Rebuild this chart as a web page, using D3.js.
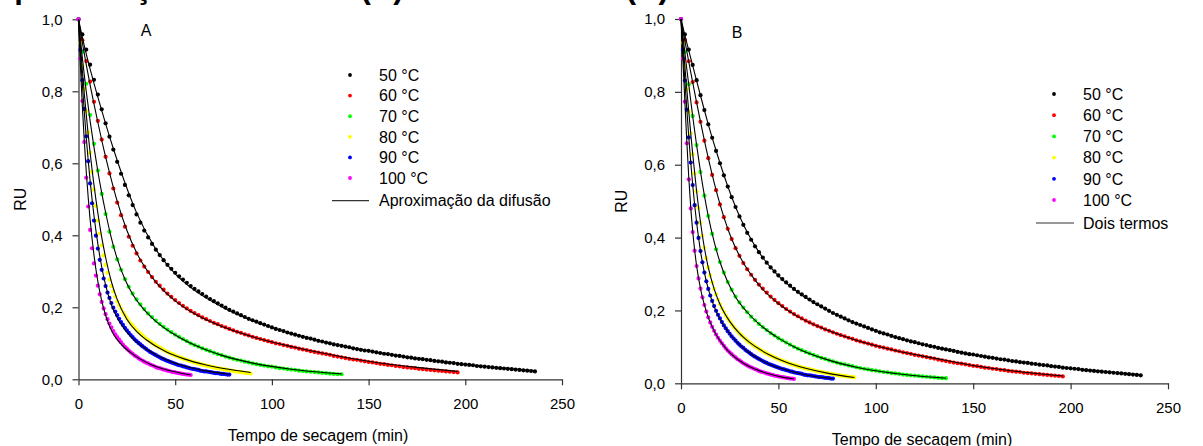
<!DOCTYPE html>
<html><head><meta charset="utf-8">
<script src="https://cdn.jsdelivr.net/npm/d3@7"></script>
<style>
body{margin:0;background:#fff}
svg{display:block}
text{font-family:Arial,"Liberation Sans",sans-serif;fill:#000}
</style>
</head><body>
<svg id="c" width="1203" height="446"></svg>
<script>
// ---------- DATA ----------
const seriesLabels = ["50 °C","60 °C","70 °C","80 °C","90 °C","100 °C"];
const xTicks = [0, 50, 100, 150, 200, 250];
const yTicks = [0, 0.2, 0.4, 0.6, 0.8, 1.0];
const yTickLabels = ["0,0","0,2","0,4","0,6","0,8","1,0"];
const fitLabelA = "Aproximação da difusão";
const fitLabelB = "Dois termos";
const titleText = "aproximação da difusão (A) e Dois termos (B)";

// sampling interval of the measurements (min)
const sampleInterval = [2, 2, 2, 1, 1, 1];

// observed moisture ratio (RU)
const ru50 = [1.000,0.958,0.916,0.874,0.832,0.791,0.750,0.711,0.674,0.638,
0.604,0.571,0.540,0.511,0.484,0.458,0.435,0.413,0.394,0.376,
0.360,0.345,0.331,0.318,0.307,0.296,0.286,0.277,0.268,0.259,
0.251,0.244,0.237,0.230,0.223,0.217,0.211,0.205,0.199,0.193,
0.188,0.183,0.178,0.173,0.168,0.164,0.160,0.156,0.152,0.148,
0.144,0.140,0.137,0.134,0.130,0.127,0.124,0.121,0.118,0.115,
0.113,0.110,0.107,0.105,0.102,0.100,0.097,0.095,0.093,0.091,
0.089,0.086,0.084,0.082,0.080,0.079,0.077,0.075,0.073,0.071,
0.070,0.068,0.066,0.065,0.063,0.061,0.060,0.058,0.057,0.056,
0.054,0.053,0.051,0.050,0.049,0.047,0.046,0.045,0.043,0.042,
0.041,0.040,0.039,0.037,0.036,0.035,0.034,0.033,0.032,0.031,
0.030,0.029,0.028,0.027,0.026,0.025,0.024,0.023,0.022];
const ru60 = [1.000,0.942,0.884,0.827,0.771,0.718,0.666,0.618,0.572,0.530,
0.491,0.456,0.424,0.396,0.371,0.350,0.330,0.313,0.298,0.284,
0.271,0.260,0.249,0.238,0.229,0.220,0.212,0.204,0.197,0.190,
0.184,0.178,0.172,0.167,0.162,0.157,0.153,0.148,0.144,0.140,
0.136,0.132,0.129,0.125,0.122,0.118,0.115,0.112,0.109,0.106,
0.103,0.100,0.098,0.095,0.093,0.090,0.088,0.085,0.083,0.081,
0.078,0.076,0.074,0.072,0.070,0.068,0.065,0.063,0.061,0.059,
0.057,0.055,0.054,0.052,0.050,0.048,0.047,0.045,0.043,0.042,
0.040,0.039,0.037,0.036,0.034,0.033,0.032,0.031,0.029,0.028,
0.027,0.026,0.025,0.024,0.023,0.022,0.021,0.020,0.019];
const ru70 = [1.000,0.910,0.821,0.734,0.654,0.580,0.515,0.459,0.410,0.368,
0.333,0.304,0.278,0.257,0.238,0.222,0.208,0.195,0.183,0.173,
0.163,0.154,0.146,0.138,0.131,0.124,0.118,0.112,0.106,0.100,
0.095,0.091,0.086,0.082,0.078,0.074,0.070,0.067,0.063,0.060,
0.057,0.054,0.052,0.049,0.047,0.044,0.042,0.040,0.038,0.036,
0.035,0.033,0.031,0.030,0.028,0.027,0.026,0.024,0.023,0.022,
0.021,0.020,0.019,0.018,0.017,0.016,0.015,0.014,0.014];
const ru80 = [1.000,0.935,0.871,0.807,0.745,0.686,0.629,0.576,0.527,0.482,
0.441,0.405,0.372,0.344,0.318,0.296,0.277,0.259,0.244,0.230,
0.217,0.206,0.196,0.186,0.178,0.170,0.162,0.155,0.149,0.143,
0.137,0.132,0.127,0.122,0.117,0.113,0.109,0.105,0.101,0.098,
0.094,0.091,0.088,0.085,0.082,0.079,0.076,0.074,0.071,0.069,
0.066,0.064,0.062,0.060,0.058,0.056,0.054,0.052,0.050,0.049,
0.047,0.045,0.044,0.042,0.041,0.040,0.038,0.037,0.036,0.034,
0.033,0.032,0.031,0.030,0.029,0.028,0.027,0.026,0.025,0.024,
0.023,0.022,0.021,0.021,0.020,0.019,0.018,0.018,0.017,0.016];
const ru90 = [1.000,0.915,0.831,0.751,0.675,0.606,0.544,0.489,0.441,0.399,
0.363,0.332,0.304,0.280,0.259,0.241,0.226,0.212,0.199,0.188,
0.178,0.168,0.159,0.151,0.143,0.136,0.129,0.123,0.117,0.111,
0.106,0.101,0.097,0.092,0.088,0.084,0.080,0.076,0.073,0.070,
0.067,0.064,0.061,0.058,0.056,0.053,0.051,0.049,0.047,0.045,
0.043,0.041,0.039,0.038,0.036,0.035,0.033,0.032,0.030,0.029,
0.028,0.027,0.026,0.024,0.023,0.022,0.022,0.021,0.020,0.019,
0.018,0.017,0.017,0.016,0.015,0.015,0.014,0.013,0.013];
const ru100 = [1.000,0.891,0.773,0.659,0.560,0.480,0.415,0.364,0.322,0.288,
0.260,0.236,0.215,0.197,0.181,0.167,0.155,0.144,0.134,0.125,
0.117,0.110,0.103,0.096,0.090,0.085,0.080,0.075,0.071,0.066,
0.063,0.059,0.055,0.052,0.049,0.046,0.044,0.041,0.039,0.037,
0.034,0.032,0.031,0.029,0.027,0.026,0.024,0.023,0.021,0.020,
0.019,0.018,0.017,0.016,0.015,0.014,0.013,0.013,0.012];

// fitted model curves (time in min, RU)
const fitT50 = [0,2,4,6,8,10,14,18,24,30,40,50,60,75,90,110,130,150,175,200,220,236];
const fitA50 = [1.000,0.950,0.904,0.862,0.822,0.784,0.710,0.641,0.546,0.463,0.361,0.293,0.247,0.199,0.163,0.127,0.100,0.079,0.058,0.042,0.031,0.024];
const fitB50 = [1.000,0.955,0.913,0.872,0.831,0.790,0.711,0.639,0.541,0.459,0.360,0.295,0.250,0.201,0.164,0.127,0.100,0.079,0.058,0.041,0.031,0.023];
const fitT60 = [0,2,4,6,8,10,13,16,20,25,30,40,50,60,75,90,110,130,150,175,196];
const fitA60 = [1.000,0.935,0.874,0.818,0.765,0.714,0.641,0.575,0.495,0.414,0.352,0.270,0.218,0.182,0.145,0.118,0.091,0.069,0.050,0.033,0.022];
const fitB60 = [1.000,0.940,0.882,0.826,0.771,0.718,0.642,0.573,0.492,0.410,0.350,0.270,0.219,0.183,0.146,0.118,0.090,0.069,0.049,0.031,0.020];
const fitT70 = [0,1,2,3,4,6,8,10,12,14,17,20,24,28,34,40,50,60,75,90,110,136];
const fitA70 = [1.000,0.945,0.893,0.845,0.800,0.718,0.645,0.578,0.518,0.464,0.392,0.335,0.278,0.236,0.193,0.161,0.123,0.095,0.065,0.045,0.028,0.015];
const fitB70 = [1.000,0.953,0.907,0.862,0.819,0.733,0.654,0.581,0.516,0.459,0.389,0.333,0.278,0.237,0.195,0.163,0.124,0.095,0.065,0.044,0.027,0.014];
const fitT80 = [0,1,2,3,4,5,6,8,10,12,14,17,20,25,30,35,45,55,65,75,89];
const fitA80 = [1.000,0.925,0.857,0.794,0.736,0.681,0.630,0.540,0.462,0.395,0.339,0.271,0.222,0.167,0.133,0.110,0.077,0.056,0.041,0.030,0.019];
const fitB80 = [1.000,0.933,0.869,0.806,0.745,0.686,0.630,0.528,0.442,0.372,0.318,0.259,0.217,0.170,0.137,0.113,0.079,0.056,0.040,0.028,0.016];
const fitT90 = [0,1,2,3,4,5,6,8,10,12,14,17,20,25,30,35,45,55,65,78];
const fitA90 = [1.000,0.905,0.820,0.742,0.672,0.609,0.552,0.455,0.376,0.312,0.262,0.207,0.171,0.131,0.104,0.084,0.055,0.036,0.024,0.014];
const fitB90 = [1.000,0.913,0.830,0.751,0.676,0.607,0.545,0.442,0.363,0.304,0.259,0.211,0.177,0.136,0.106,0.084,0.053,0.035,0.022,0.013];
const fitT100 = [0,1,2,3,4,5,6,7,8,10,12,14,16,18,20,24,28,32,38,45,52,58];
const fitA100 = [1.000,0.870,0.758,0.662,0.578,0.506,0.444,0.391,0.345,0.272,0.218,0.178,0.148,0.126,0.110,0.087,0.070,0.056,0.040,0.027,0.018,0.012];
const fitB100 = [1.000,0.885,0.772,0.662,0.564,0.483,0.418,0.366,0.323,0.260,0.215,0.181,0.155,0.134,0.117,0.090,0.070,0.055,0.039,0.026,0.017,0.012];

// ---------- STYLE ----------
const colors = ["#000000","#ff0000","#00ff00","#ffff00","#0000ff","#ff00ff"];
const observed = [ru50, ru60, ru70, ru80, ru90, ru100];
const fitTimes = [fitT50, fitT60, fitT70, fitT80, fitT90, fitT100];

const panels = [
  {letter:"A", fit:[fitA50,fitA60,fitA70,fitA80,fitA90,fitA100], fitLabel:fitLabelA,
   xr:[78.5,562], yr:[379.3,19.3], yTitleX:20, xTitleX:318, xTitleY:441, letterPos:[146,36],
   leg:{dotX:350, x1:332, x2:369, textX:379, y0:75, dy:20.6, lineY:200.7}},
  {letter:"B", fit:[fitB50,fitB60,fitB70,fitB80,fitB90,fitB100], fitLabel:fitLabelB,
   xr:[681,1168], yr:[383.3,19], yTitleX:621.5, xTitleX:922, xTitleY:445, letterPos:[737,37.5],
   leg:{dotX:1054, x1:1036, x2:1074, textX:1083, y0:94, dy:21.2, lineY:223}}
];

const svg = d3.select("#c");

// title cropped by the top edge in the reference (only descenders show)
svg.append("text").attr("x", -3).attr("y", -1.8)
  .style("font-size","31px").style("font-weight","bold").text(titleText);

panels.forEach(p => {
  const x = d3.scaleLinear().domain([0,250]).range(p.xr);
  const y = d3.scaleLinear().domain([0,1]).range(p.yr);
  const g = svg.append("g");

  const xAxis = g.append("g").attr("transform",`translate(0,${p.yr[0]})`)
    .call(d3.axisBottom(x).tickValues(xTicks).tickSize(6).tickSizeOuter(0).tickPadding(13).tickFormat(d=>d));
  const yAxis = g.append("g").attr("transform",`translate(${p.xr[0]},0)`)
    .call(d3.axisLeft(y).tickValues(yTicks).tickSize(6).tickSizeOuter(0).tickPadding(10)
      .tickFormat((d,i)=>yTickLabels[i]));
  [xAxis,yAxis].forEach(a=>{
    a.selectAll("path,line").attr("stroke","#333").attr("stroke-width",1.2);
    a.selectAll("text").style("font-size","15px").style("font-family",'Arial,"Liberation Sans",sans-serif').attr("fill","#000");
  });

  // observed points
  observed.forEach((arr, si) => {
    g.append("g").selectAll("circle").data(arr).join("circle")
      .attr("cx",(d,i)=>x(i*sampleInterval[si]))
      .attr("cy",d=>y(d))
      .attr("r",2.1)
      .attr("fill",colors[si]);
  });

  // fitted lines
  const line = d3.line().x(d=>x(d[0])).y(d=>y(d[1])).curve(d3.curveMonotoneX);
  p.fit.forEach((vals, si) => {
    const pts = fitTimes[si].map((t,i)=>[t, vals[i]]);
    g.append("path").datum(pts).attr("d",line)
      .attr("fill","none").attr("stroke","#000").attr("stroke-width",1.1);
  });

  // axis titles
  g.append("text").attr("transform",`translate(${p.yTitleX},${(p.yr[0]+p.yr[1])/2}) rotate(-90)`)
    .attr("text-anchor","middle").attr("dy","0.36em").style("font-size","16px").text("RU");
  g.append("text").attr("x",p.xTitleX).attr("y",p.xTitleY).attr("text-anchor","middle")
    .style("font-size","16px").text("Tempo de secagem (min)");

  // panel letter
  g.append("text").attr("x",p.letterPos[0]).attr("y",p.letterPos[1]).attr("text-anchor","middle")
    .style("font-size","16px").text(p.letter);

  // legend
  const L = p.leg;
  seriesLabels.forEach((lab, si) => {
    const yy = L.y0 + si*L.dy;
    g.append("circle").attr("cx",L.dotX).attr("cy",yy).attr("r",1.9).attr("fill",colors[si]);
    g.append("text").attr("x",L.textX).attr("y",yy).attr("dy","0.36em").style("font-size","16px").text(lab);
  });
  g.append("line").attr("x1",L.x1).attr("x2",L.x2).attr("y1",L.lineY).attr("y2",L.lineY)
    .attr("stroke","#333").attr("stroke-width",1.2);
  g.append("text").attr("x",L.textX).attr("y",L.lineY).attr("dy","0.36em").style("font-size","16px").text(p.fitLabel);
});
</script>
</body></html>
